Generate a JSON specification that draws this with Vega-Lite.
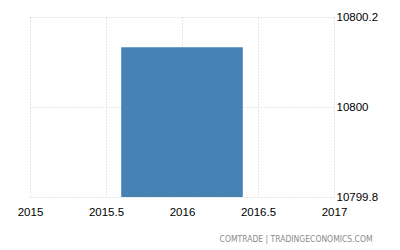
{
  "$schema": "https://vega.github.io/schema/vega-lite/v6.json",
  "autosize": "none",
  "width": 304,
  "height": 180,
  "padding": {"left": 30, "top": 17, "right": 66, "bottom": 53},
  "background": "white",
  "config": {"view": {"stroke": null}},
  "title": {
    "text": "COMTRADE | TRADINGECONOMICS.COM",
    "orient": "bottom",
    "anchor": "end",
    "fontSize": 8.5,
    "font": "DejaVu Sans Condensed",
    "fontWeight": "normal",
    "color": "#8a8a8a",
    "offset": 17,
    "dx": -5
  },
  "data": {"values": [{"start": 2015.6, "end": 2016.4, "value": 10800.133, "base": 10799.8}]},
  "mark": {"type": "bar", "color": "#4682b4"},
  "encoding": {
    "x": {
      "field": "start", "type": "quantitative",
      "scale": {"domain": [2015, 2017], "nice": false, "zero": false},
      "axis": {
        "title": null, "values": [2015, 2015.5, 2016, 2016.5, 2017], "format": "~g",
        "domain": false, "ticks": false, "labelPadding": 9,
        "labelFont": "Liberation Sans", "labelFontSize": 11.5, "labelColor": "#000",
        "gridColor": "#cccccc", "gridDash": [1, 2], "gridWidth": 1, "labelFlush": false
      }
    },
    "x2": {"field": "end"},
    "y": {
      "field": "value", "type": "quantitative",
      "scale": {"domain": [10799.8, 10800.2], "nice": false, "zero": false},
      "axis": {
        "title": null, "orient": "right", "values": [10799.8, 10800, 10800.2], "format": "~g",
        "domain": false, "ticks": false, "labelPadding": 2,
        "labelFont": "Liberation Sans", "labelFontSize": 11.5, "labelColor": "#000",
        "gridColor": "#cccccc", "gridDash": [1, 2], "gridWidth": 1, "labelFlush": false
      }
    },
    "y2": {"field": "base"}
  }
}
